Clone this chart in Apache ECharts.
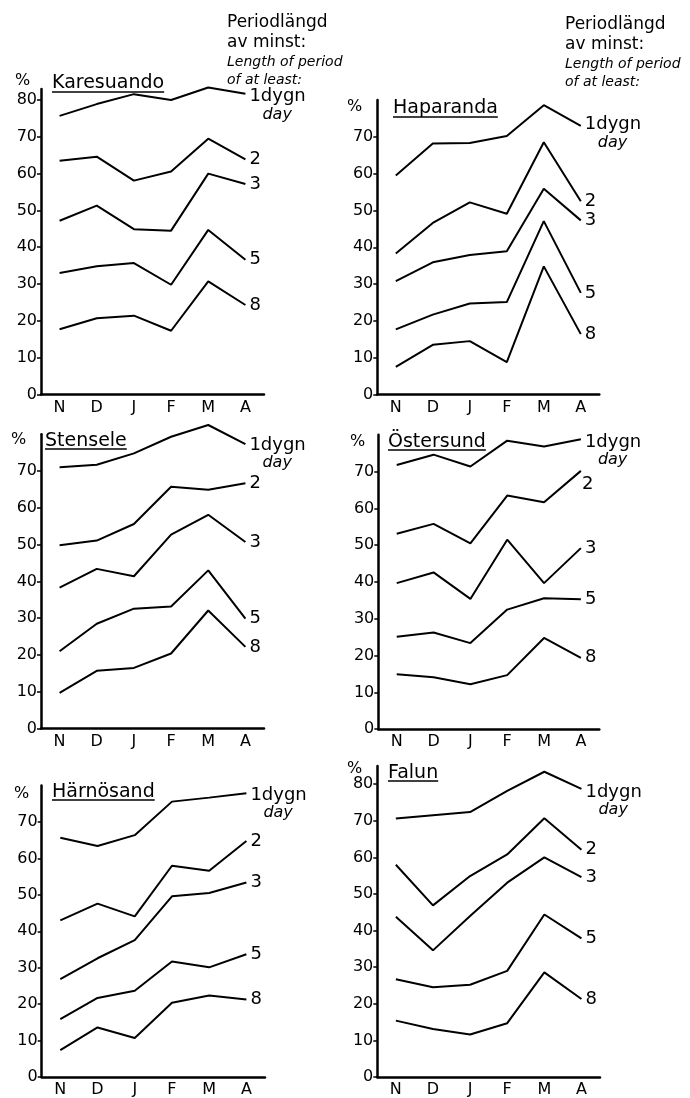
<!DOCTYPE html>
<html>
<head>
<meta charset="utf-8">
<script src="https://cdn.jsdelivr.net/npm/echarts@6/dist/echarts.min.js"></script>
<style>
html,body{margin:0;padding:0;background:#fff;}
#chart{width:690px;height:1098px;}
</style>
</head>
<body>
<div id="chart"></div>
<script>
// ---------- DATA ----------
const months = ['N', 'D', 'J', 'F', 'M', 'A'];
const stations = ['Karesuando', 'Haparanda', 'Stensele', 'Östersund', 'Härnösand', 'Falun'];
const periodLabels = ['1', '2', '3', '5', '8'];

// rows: period of at least 1, 2, 3, 5, 8 days (%)
const karesuando = [
  [75.7, 78.9, 81.6, 80.0, 83.4, 81.7],
  [63.5, 64.6, 58.1, 60.6, 69.5, 63.9],
  [47.2, 51.3, 44.9, 44.5, 60.0, 57.2],
  [33.0, 34.8, 35.7, 29.8, 44.7, 36.6],
  [17.7, 20.7, 21.4, 17.3, 30.7, 24.3]
];
const haparanda = [
  [59.5, 68.2, 68.3, 70.2, 78.6, 73.0],
  [38.3, 46.6, 52.2, 49.1, 68.5, 52.5],
  [30.8, 35.9, 37.9, 38.9, 55.9, 47.3],
  [17.7, 21.7, 24.7, 25.1, 47.1, 27.6],
  [7.5, 13.5, 14.5, 8.8, 34.8, 16.4]
];
const stensele = [
  [71.0, 71.7, 74.8, 79.3, 82.5, 77.3],
  [49.8, 51.1, 55.6, 65.7, 64.9, 66.7],
  [38.3, 43.4, 41.4, 52.7, 58.1, 50.7],
  [21.0, 28.5, 32.6, 33.2, 43.0, 29.9],
  [9.7, 15.7, 16.5, 20.4, 32.1, 22.2]
];
const ostersund = [
  [71.8, 74.6, 71.4, 78.4, 76.8, 78.8],
  [53.1, 55.8, 50.5, 63.5, 61.7, 70.2],
  [39.7, 42.6, 35.4, 51.5, 39.7, 49.2],
  [25.1, 26.3, 23.4, 32.5, 35.6, 35.3],
  [14.9, 14.1, 12.2, 14.7, 24.8, 19.4]
];
const harnosand = [
  [65.7, 63.4, 66.4, 75.6, 76.7, 77.9],
  [43.0, 47.6, 44.1, 58.0, 56.6, 64.8],
  [26.9, 32.6, 37.6, 49.6, 50.5, 53.4],
  [15.9, 21.7, 23.7, 31.7, 30.1, 33.7],
  [7.4, 13.6, 10.7, 20.4, 22.4, 21.3]
];
const falun = [
  [70.6, 71.5, 72.4, 78.2, 83.4, 78.7],
  [58.0, 46.9, 54.9, 60.8, 70.7, 62.1],
  [43.8, 34.6, 44.0, 53.1, 60.0, 54.6],
  [26.7, 24.5, 25.2, 29.0, 44.4, 37.9],
  [15.4, 13.1, 11.6, 14.7, 28.6, 21.3]
];
const yTicksA = [0, 10, 20, 30, 40, 50, 60, 70, 80];
const yTicksB = [0, 10, 20, 30, 40, 50, 60, 70];

const stationData = [karesuando, haparanda, stensele, ostersund, harnosand, falun];
const stationTicks = [yTicksA, yTicksB, yTicksB, yTicksB, yTicksB, yTicksA];

// ---------- LAYOUT ----------
const FONT = 'DejaVu Sans';
const panels = [
  {left: 41,    top: 89,    width: 223,   height: 305.4, max: 83, pct: [26, 82],  title: [52, 83, 92],   dayOff: 12, labOff: {}},
  {left: 377.3, top: 100,   width: 222,   height: 294.5, max: 80, pct: [358, 108], title: [393, 108, 117], dayOff: 8,  labOff: {}},
  {left: 41,    top: 434.2, width: 223,   height: 294.4, max: 80, pct: [22, 441], title: [45, 441, 449], dayOff: 10, labOff: {}},
  {left: 378.3, top: 434.8, width: 221,   height: 294.4, max: 80, pct: [361, 443], title: [388, 442, 450], dayOff: 12, labOff: {1: [-3, 13]}},
  {left: 41.7,  top: 785.6, width: 223.3, height: 294.4, max: 80, pct: [25, 795], title: [52, 792, 800], dayOff: 11, labOff: {}},
  {left: 377.3, top: 765.9, width: 222.7, height: 312.4, max: 85, pct: [358, 770], title: [388, 773, 781], dayOff: 12, labOff: {}}
];

const measure = (txt, font) => {
  const c = document.createElement('canvas').getContext('2d');
  c.font = font;
  return c.measureText(txt).width;
};

const grid = [], xAxis = [], yAxis = [], series = [], graphic = [];
panels.forEach((p, i) => {
  grid.push({left: p.left, top: p.top, width: p.width, height: p.height, containLabel: false});
  xAxis.push({
    type: 'category', gridIndex: i, data: months, boundaryGap: true,
    axisLine: {lineStyle: {color: '#000', width: 2.5}},
    axisTick: {inside: true, length: 5, lineStyle: {color: '#000', width: 1.5}},
    axisLabel: {color: '#000', fontFamily: FONT, fontSize: 16, margin: 5},
    splitLine: {show: false}
  });
  yAxis.push({
    type: 'value', gridIndex: i, min: 0, max: p.max,
    axisLine: {show: true, lineStyle: {color: '#000', width: 2.5}},
    axisTick: {show: true, length: 4, lineStyle: {color: '#000', width: 1.5}, customValues: stationTicks[i]},
    axisLabel: {color: '#000', fontFamily: FONT, fontSize: 16, margin: 4, customValues: stationTicks[i]},
    splitLine: {show: false}
  });
  stationData[i].forEach((vals, k) => {
    const isFirst = k === 0;
    const off = p.labOff[k] || [0, isFirst ? p.dayOff : 0];
    series.push({
      type: 'line', xAxisIndex: i, yAxisIndex: i, data: vals,
      symbol: 'none', clip: false, silent: true,
      lineStyle: {color: '#000', width: 2},
      endLabel: {
        show: true, distance: 4, offset: off, color: '#000', fontFamily: FONT,
        fontSize: 18,
        formatter: isFirst ? '{a|1dygn}\n{b|day}' : periodLabels[k],
        rich: isFirst ? {
          a: {fontFamily: FONT, fontSize: 18, lineHeight: 18, color: '#000'},
          b: {fontFamily: FONT, fontSize: 16, fontStyle: 'italic', lineHeight: 18, color: '#000', padding: [0, 0, 0, 13]}
        } : undefined
      }
    });
  });
  // percent sign
  graphic.push({type: 'text', left: p.pct[0] - 11, top: p.pct[1] - 9,
    style: {text: '%', font: '16px "' + FONT + '"', fill: '#000'}});
  // title with underline
  const tFont = '19px "' + FONT + '"';
  const tw = measure(stations[i], tFont);
  graphic.push({type: 'text', x: p.title[0], y: p.title[1],
    style: {text: stations[i], font: tFont, fill: '#000', verticalAlign: 'middle', align: 'left'}});
  graphic.push({type: 'line', shape: {x1: p.title[0], y1: p.title[2], x2: p.title[0] + tw, y2: p.title[2]},
    style: {stroke: '#000', lineWidth: 1.5}});
});

// header texts (legend explanation)
[[227, 23], [565, 25]].forEach(([x, y]) => {
  graphic.push({type: 'text', x: x, y: y, style: {text: 'Periodlängd', font: '17px "' + FONT + '"', fill: '#000', verticalAlign: 'middle'}});
  graphic.push({type: 'text', x: x, y: y + 20, style: {text: 'av minst:', font: '17px "' + FONT + '"', fill: '#000', verticalAlign: 'middle'}});
  graphic.push({type: 'text', x: x, y: y + 39, style: {text: 'Length of period', font: 'italic 14px "' + FONT + '"', fill: '#000', verticalAlign: 'middle'}});
  graphic.push({type: 'text', x: x, y: y + 57, style: {text: 'of at least:', font: 'italic 14px "' + FONT + '"', fill: '#000', verticalAlign: 'middle'}});
});

const chart = echarts.init(document.getElementById('chart'), null, {renderer: 'canvas'});
chart.setOption({
  animation: false,
  backgroundColor: '#fff',
  grid, xAxis, yAxis, series, graphic
});
</script>
</body>
</html>
